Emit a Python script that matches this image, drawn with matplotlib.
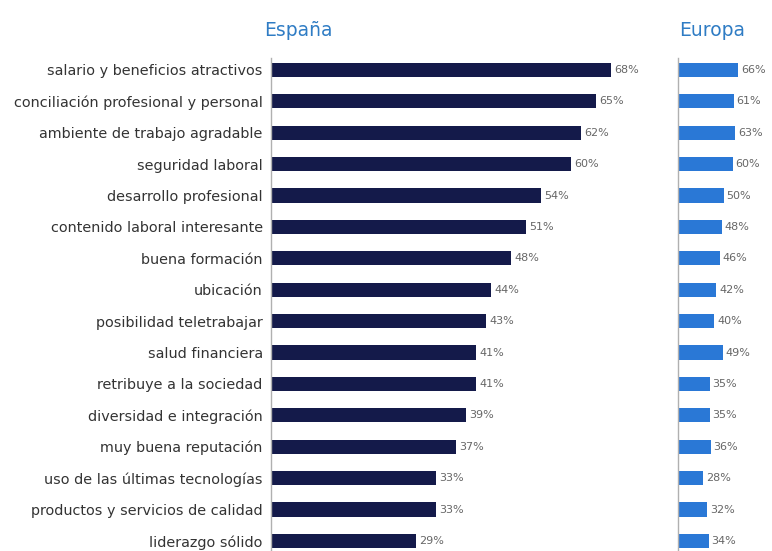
import matplotlib.pyplot as plt
import numpy as np

# motivos para elegir empleador, % de respuestas
categorias = [
    'salario y beneficios atractivos',
    'conciliación profesional y personal',
    'ambiente de trabajo agradable',
    'seguridad laboral',
    'desarrollo profesional',
    'contenido laboral interesante',
    'buena formación',
    'ubicación',
    'posibilidad teletrabajar',
    'salud financiera',
    'retribuye a la sociedad',
    'diversidad e integración',
    'muy buena reputación',
    'uso de las últimas tecnologías',
    'productos y servicios de calidad',
    'liderazgo sólido',
]
espana = [68, 65, 62, 60, 54, 51, 48, 44, 43, 41, 41, 39, 37, 33, 33, 29]
europa = [66, 61, 63, 60, 50, 48, 46, 42, 40, 49, 35, 35, 36, 28, 32, 34]

COLOR_ES = '#141a4a'
COLOR_EU = '#2a78d6'
COLOR_TITLE = '#2f7cc4'
COLOR_TXT = '#666666'

W, H = 772, 551
fig = plt.figure(figsize=(W / 100, H / 100), dpi=100)

top = 1 - 58 / H
ax_es = fig.add_axes([271 / W, 0, 400 / W, top])
ax_eu = fig.add_axes([678 / W, 0, 91 / W, top])

y = np.arange(len(categorias))

def style(ax, xmax):
    ax.set_xlim(0, xmax)
    ax.set_ylim(15.32, -0.38)
    for s in ['top', 'right', 'bottom']:
        ax.spines[s].set_visible(False)
    ax.spines['left'].set_color('#b0b0b0')
    ax.spines['left'].set_linewidth(1.0)
    ax.set_xticks([])
    ax.tick_params(axis='y', length=0)

style(ax_es, 80)
ax_es.barh(y, espana, height=0.45, color=COLOR_ES)
ax_es.set_yticks(y)
ax_es.set_yticklabels(categorias, fontsize=10.4, color='#333333')
ax_es.tick_params(axis='y', pad=6)
for yi, v in zip(y, espana):
    ax_es.text(v + 0.6, yi, f'{v}%', va='center', ha='left', fontsize=8, color=COLOR_TXT)

style(ax_eu, 100)
ax_eu.barh(y, europa, height=0.45, color=COLOR_EU)
ax_eu.set_yticks([])
for yi, v in zip(y, europa):
    ax_eu.text(v + 3, yi, f'{v}%', va='center', ha='left', fontsize=8, color=COLOR_TXT)

fig.text(298 / W, 1 - 31 / H, 'España', ha='center', va='center', fontsize=13.5, color=COLOR_TITLE)
fig.text(712 / W, 1 - 31 / H, 'Europa', ha='center', va='center', fontsize=13.5, color=COLOR_TITLE)

fig.savefig('out.png', dpi=100)
